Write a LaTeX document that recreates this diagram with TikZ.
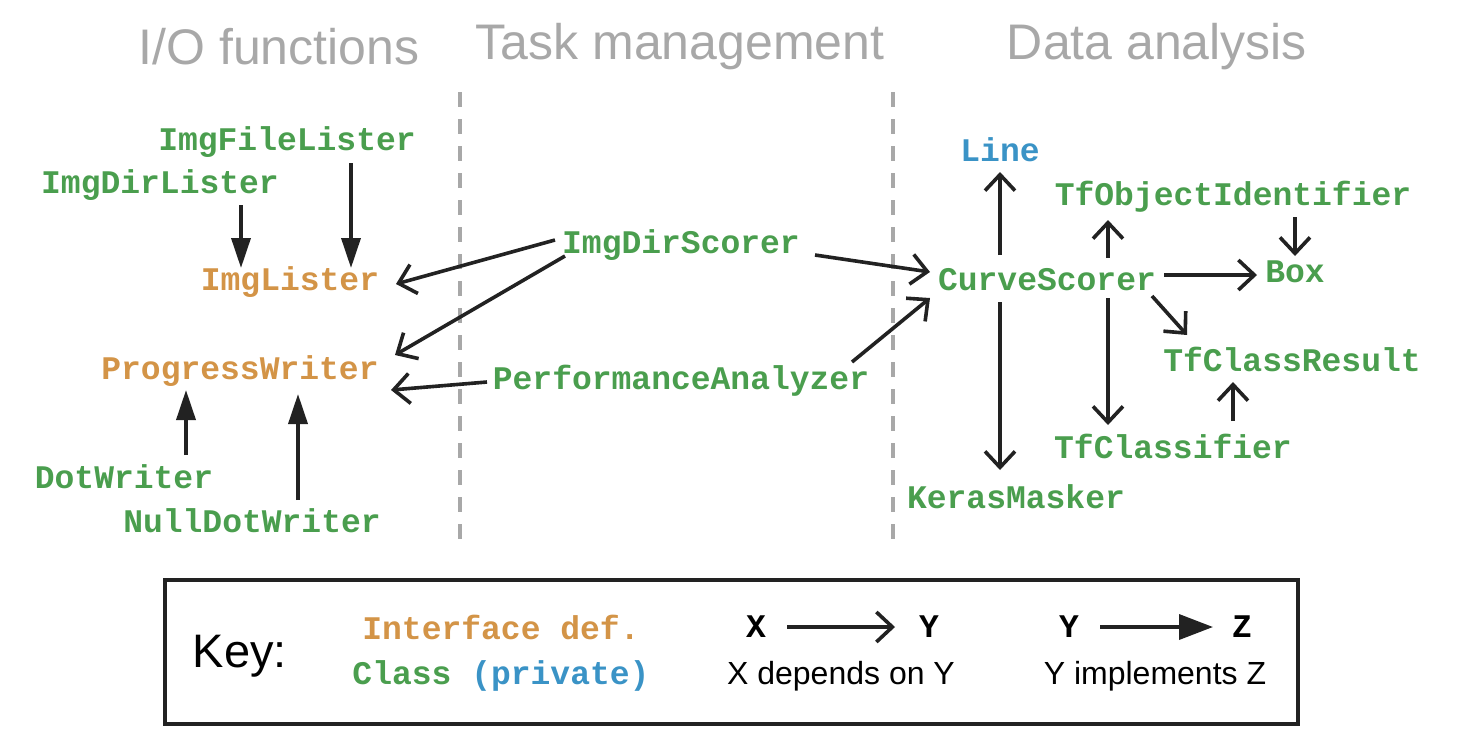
\documentclass[tikz,border=0pt]{standalone}
\usepackage{fontspec}
\setmainfont{Liberation Sans}
\setmonofont{Liberation Mono}
\usetikzlibrary{arrows.meta,calc}
\definecolor{cgreen}{HTML}{4A9E4E}
\definecolor{corange}{HTML}{D39447}
\definecolor{cblue}{HTML}{3A93C6}
\definecolor{cgray}{HTML}{A8A8A8}
\definecolor{cline}{HTML}{222222}
\tikzset{
  cls/.style={inner sep=0pt, text=cgreen, font=\fontsize{33}{36}\selectfont\ttfamily\bfseries},
  ifc/.style={cls, text=corange},
  prv/.style={cls, text=cblue},
  hdr/.style={inner sep=0pt, text=cgray, font=\fontsize{50}{56}\selectfont},
  dep/.style={draw=cline, line width=3.6pt, -{Straight Barb[length=16pt,width=30pt,line width=3.6pt]}},
  impl/.style={draw=cline, line width=3.6pt, -{Triangle[length=30pt,width=19pt]}},
  implkey/.style={draw=cline, line width=3.6pt, -{Triangle[length=34pt,width=25pt]}},
  sep/.style={draw=cgray, line width=3.6pt, dash pattern=on 15pt off 12pt},
  keytxt/.style={inner sep=0pt, text=black, font=\fontsize{32}{36}\selectfont},
}
\begin{document}
\begin{tikzpicture}[x=1pt,y=-1pt]
\useasboundingbox (0,0) rectangle (1458,750);
% headers
\node[hdr] (h1) at (279,47) {I/O functions};
\node[hdr] (h2) at (680,47) {Task management};
\node[hdr] (h3) at (1157,47) {Data analysis};
% separators
\coordinate (s1a) at (460,92); \coordinate (s1b) at (460,540);
\coordinate (s2a) at (893,92); \coordinate (s2b) at (893,540);
\draw[sep] (s1a) -- (s1b);
\draw[sep] (s2a) -- (s2b);
% nodes
\node[cls] (ifl) at (287,142) {ImgFileLister};
\node[cls] (idl) at (160,185) {ImgDirLister};
\node[ifc] (il) at (290,282) {ImgLister};
\node[ifc] (pw) at (240,371) {ProgressWriter};
\node[cls] (dw) at (124,477) {DotWriter};
\node[cls] (ndw) at (252,521) {NullDotWriter};
\node[cls] (ids) at (681,245) {ImgDirScorer};
\node[cls] (pa) at (681,381) {PerformanceAnalyzer};
\node[prv] (line) at (1000,150) {Line};
\node[cls] (toi) at (1233,197) {TfObjectIdentifier};
\node[cls] (cs) at (1047,280) {CurveScorer};
\node[cls] (box) at (1295,272) {Box};
\node[cls] (tcr) at (1292,359) {TfClassResult};
\node[cls] (tc) at (1173,446) {TfClassifier};
\node[cls] (km) at (1016,497) {KerasMasker};
% implementation arrows
\draw[impl] ($(idl)+(81,20)$) -- ($(il)+(-49,-14)$);
\draw[impl] ($(ifl)+(64,21)$) -- ($(il)+(61,-14)$);
\draw[impl] ($(dw)+(62,-22)$) -- ($(pw)+(-54,19)$);
\draw[impl] ($(ndw)+(46,-21)$) -- ($(pw)+(58,23)$);
% dependency arrows
\draw[dep] ($(ids)+(-126,-5)$) -- ($(il)+(106,2)$);
\draw[dep] ($(ids)+(-116,11)$) -- ($(pw)+(155,-16)$);
\draw[dep] ($(pa)+(-194,1)$) -- ($(pw)+(151,19)$);
\draw[dep] ($(ids)+(134,10)$) -- ($(cs)+(-117,-8)$);
\draw[dep] ($(pa)+(171,-19)$) -- ($(cs)+(-117,18)$);
\draw[dep] ($(cs)+(-47,-25)$) -- ($(line)+(0,22)$);
\draw[dep] ($(cs)+(-47,22)$) -- ($(km)+(-16,-27)$);
\draw[dep] ($(cs)+(61,-22)$) -- ($(toi)+(-125,23)$);
\draw[dep] ($(cs)+(61,18)$) -- ($(tc)+(-65,-21)$);
\draw[dep] ($(cs)+(117,-5)$) -- ($(box)+(-38,3)$);
\draw[dep] ($(cs)+(105,16)$) -- ($(tcr)+(-105,-24)$);
\draw[dep] ($(toi)+(62,20)$) -- ($(box)+(0,-16)$);
\draw[dep] ($(tc)+(60,-25)$) -- ($(tcr)+(-59,23)$);
% key
\node[draw=cline, line width=4pt, minimum width=1133pt, minimum height=144pt, inner sep=0pt] (key) at (731.5,652) {};
\node[inner sep=0pt, font=\fontsize{47}{50}\selectfont] (keyl) at (240,656) {Key:};
\node[ifc] (kif) at (501,627) {Interface def.};
\node[cls] (kcl) at (501,676) {Class \textcolor{cblue}{(private)}};
\node[cls, text=black] (kx) at (756,627) {X};
\node[cls, text=black] (ky) at (929,627) {Y};
\node[cls, text=black] (ky2) at (1069,627) {Y};
\node[cls, text=black] (kz) at (1242,627) {Z};
\draw[dep] ($(kx)+(31,0)$) -- ($(ky)+(-34,0)$);
\draw[implkey] ($(ky2)+(31,0)$) -- ($(kz)+(-29,0)$);
\node[keytxt] (kdep) at (841,676) {X depends on Y};
\node[keytxt] (kimp) at (1155,676) {Y implements Z};
\end{tikzpicture}
\end{document}
